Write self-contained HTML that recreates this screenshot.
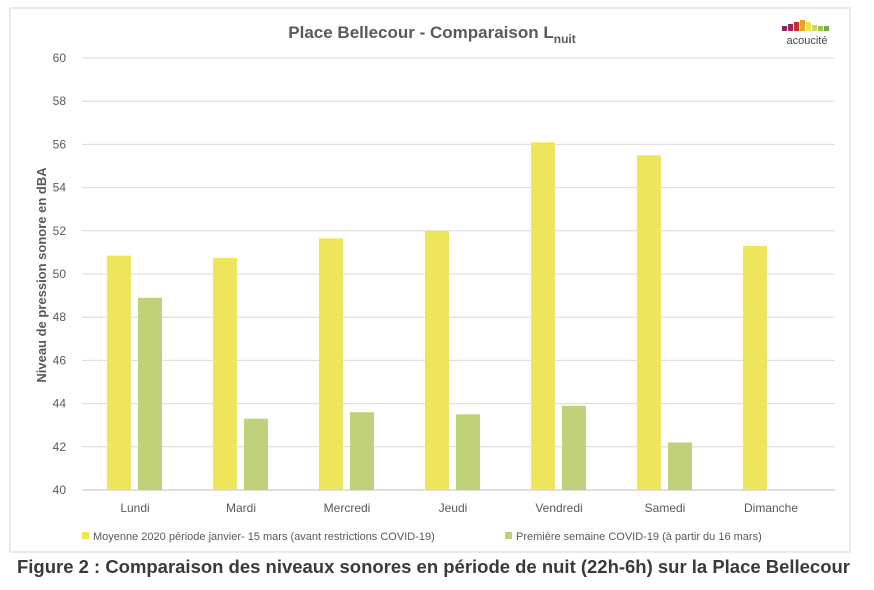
<!DOCTYPE html>
<html><head><meta charset="utf-8"><style>
body{margin:0;background:#fff;width:874px;height:585px;overflow:hidden;font-family:"Liberation Sans",sans-serif}
</style></head><body>
<svg width="874" height="585" id="svg" xmlns="http://www.w3.org/2000/svg">
<rect x="10" y="8" width="840" height="544" fill="#fff" stroke="#d9d9d9"/>
<text x="432" y="38" text-anchor="middle" font-size="17" font-weight="bold" fill="#595959">Place Bellecour - Comparaison L<tspan font-size="12" dy="5">nuit</tspan></text>
<g>
<rect x="782" y="26" width="5" height="5" fill="#7b2d6a"/><rect x="788" y="24" width="5" height="7" fill="#a3215d"/><rect x="794" y="22" width="5" height="9" fill="#d9272e"/><rect x="800" y="20" width="5" height="11" fill="#f0a020"/><rect x="806" y="22" width="5" height="9" fill="#f1e04a"/><rect x="812" y="25" width="5" height="6" fill="#c6d870"/><rect x="818" y="26" width="5" height="5" fill="#9cc24a"/><rect x="824" y="26" width="5" height="5" fill="#6fae3a"/>
<text x="807" y="44" text-anchor="middle" font-size="11" fill="#444">acoucité</text>
</g>
<text transform="translate(46,275) rotate(-90)" text-anchor="middle" font-size="13" font-weight="bold" fill="#595959">Niveau de pression sonore en dBA</text>
<g id="grid"></g><g id="bars"></g><g id="xl"></g>
<g font-size="11" fill="#595959">
<rect x="82" y="532" width="7" height="7" fill="#ede55c"/>
<text x="93" y="540">Moyenne 2020 période janvier- 15 mars (avant restrictions COVID-19)</text>
<rect x="505" y="532" width="7" height="7" fill="#bfd27a"/>
<text x="516" y="540">Première semaine COVID-19 (à partir du 16 mars)</text>
</g>
<text x="17" y="573" textLength="833" lengthAdjust="spacingAndGlyphs" font-size="18" font-weight="bold" fill="#3a3a3a">Figure 2 : Comparaison des niveaux sonores en période de nuit (22h-6h) sur la Place Bellecour</text>
</svg>
<script>
const categories=["Lundi","Mardi","Mercredi","Jeudi","Vendredi","Samedi","Dimanche"];
const avg2020=[50.85,50.75,51.65,52.0,56.1,55.5,51.3];
const covid=[48.9,43.3,43.6,43.5,43.9,42.2,null];
const ticks=[40,42,44,46,48,50,52,54,56,58,60];
const NS="http://www.w3.org/2000/svg";
const x0=82,step=106,yb=490,yt=58,vmin=40,vmax=60;
const y=v=>yb-(v-vmin)/(vmax-vmin)*(yb-yt);
const cx=i=>x0+step*(i+0.5);
function mk(t,a,p){const e=document.createElementNS(NS,t);for(const k in a)e.setAttribute(k,a[k]);p.appendChild(e);return e;}
const g=document.getElementById('grid'),b=document.getElementById('bars'),xl=document.getElementById('xl');
ticks.forEach(t=>{
 const l=mk('line',{x1:x0,x2:835,y1:y(t),y2:y(t),stroke:t===40?'#bfbfbf':'#d9d9d9'},g);
 
 
 const tx=mk('text',{x:66,y:y(t)+4,'text-anchor':'end','font-size':12,fill:'#595959'},g);
 tx.textContent=t;
 
 
});
categories.forEach((c,i)=>{
 const r1=mk('rect',{x:cx(i)-28,y:y(avg2020[i]),width:24,height:yb-y(avg2020[i]),fill:'#ede55c'},b);
 
 
 if(covid[i]!=null){
  const r2=mk('rect',{x:cx(i)+3,y:y(covid[i]),width:24,height:yb-y(covid[i]),fill:'#bfd27a'},b);
  
  
 }
 const t=mk('text',{x:cx(i),y:512,'text-anchor':'middle','font-size':12,fill:'#595959'},xl);
 t.textContent=c;
 
 
});
</script>
</body></html>
